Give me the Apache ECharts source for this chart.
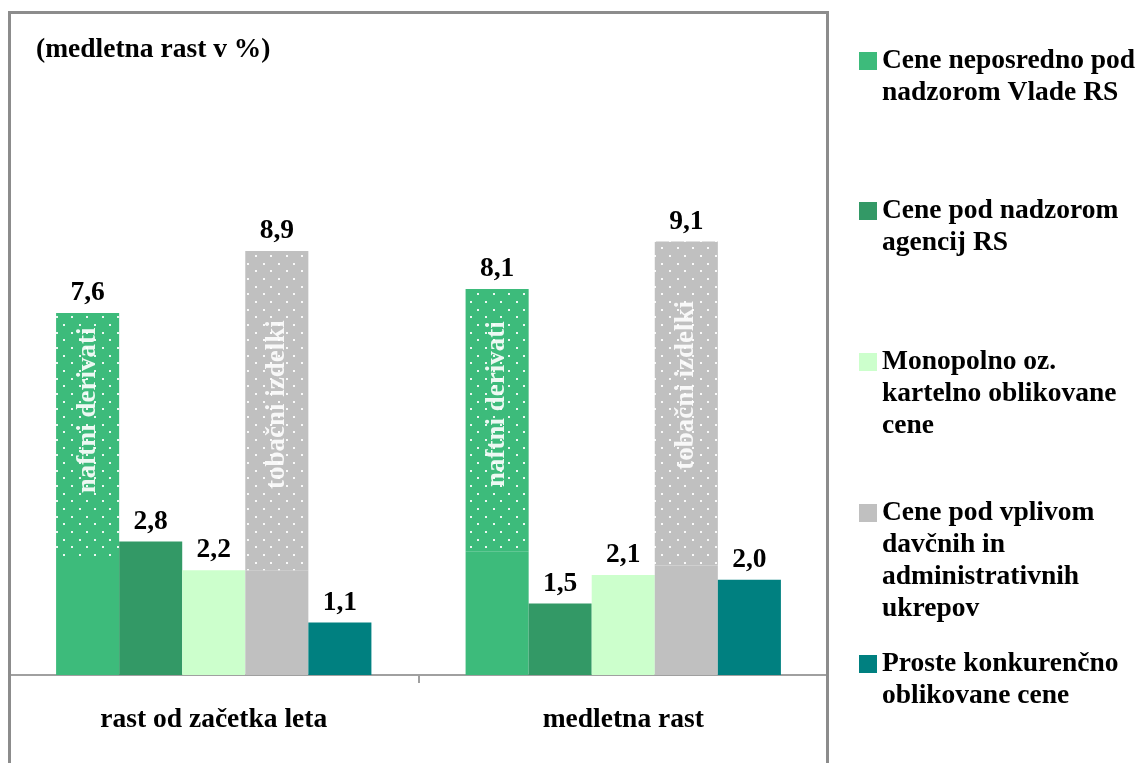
<!DOCTYPE html>
<html>
<head>
<meta charset="utf-8">
<script src="https://cdn.jsdelivr.net/npm/echarts@6/dist/echarts.min.js"></script>
<style>
  html, body { margin: 0; padding: 0; background: #ffffff; }
  #chart { width: 1142px; height: 763px; }
</style>
</head>
<body>
<div id="chart"></div>
<script>
// Categories on the x axis
const categories = ['rast od začetka leta', 'medletna rast'];

// Series names (legend text)
const seriesNames = [
  'Cene neposredno pod\nnadzorom Vlade RS',
  'Cene pod nadzorom\nagencij RS',
  'Monopolno oz.\nkartelno oblikovane\ncene',
  'Cene pod vplivom\ndavčnih in\nadministrativnih\nukrepov',
  'Proste konkurenčno\noblikovane cene'
];

// Values (%)
const vladaTotal   = [7.6, 8.1];   // Cene neposredno pod nadzorom Vlade RS
const vladaBase    = [2.5, 2.6];   // solid part below the "naftni derivati" part
const agencije     = [2.8, 1.5];
const monopolno    = [2.2, 2.1];
const davcniTotal  = [8.9, 9.1];   // Cene pod vplivom davčnih in administrativnih ukrepov
const davcniBase   = [2.2, 2.3];   // solid part below the "tobačni izdelki" part
const konkurencne  = [1.1, 2.0];

// Texts written inside the dotted parts
const vladaInner  = 'naftni derivati';
const davcniInner = 'tobačni izdelki';

const FONT = '"Liberation Serif", "Times New Roman", serif';
const FS = 27.5;
const colors = {
  vlada: '#3DBB7B',
  agencije: '#339966',
  monopolno: '#CCFFCC',
  davcni: '#C0C0C0',
  konkurencne: '#008080'
};

// Dotted fill: base colour with a staggered grid of small white dots
function dotPattern(base) {
  const size = 46;
  const c = document.createElement('canvas');
  c.width = size; c.height = size;
  const ctx = c.getContext('2d');
  ctx.fillStyle = base;
  ctx.fillRect(0, 0, size, size);
  ctx.fillStyle = 'rgba(255,255,255,0.9)';
  const step = size / 3;
  for (let r = 0; r < 6; r++) {
    const y = 2 + r * step / 2;
    const shift = (r % 2) ? step / 2 : 0;
    for (let k = 0; k < 3; k++) {
      const x = (2 + shift + k * step) % size;
      ctx.fillRect(Math.round(x), Math.round(y), 2, 2);
    }
  }
  return { image: c, repeat: 'repeat' };
}

const diff = (tot, base) => tot.map((v, i) => +(v - base[i]).toFixed(2));

// upward shift of the rotated inner texts (per category)
const vladaInnerShift = [24, 16];
const davcniInnerShift = [6, 18];

const valueLabel = {
  show: true,
  position: 'top',
  distance: 6,
  color: '#000',
  fontFamily: FONT,
  fontWeight: 'bold',
  fontSize: FS
};

function innerLabel(text, color, shift) {
  return {
    show: true,
    position: 'inside',
    rotate: 90,
    offset: [shift, 0],
    formatter: text,
    color: color,
    fontFamily: FONT,
    fontWeight: 'bold',
    fontSize: 27
  };
}

function fmt(arr) {
  return (p) => arr[p.dataIndex].toFixed(1).replace('.', ',');
}

const series = [
  {
    name: seriesNames[0], type: 'bar', stack: 'vlada',
    itemStyle: { color: colors.vlada },
    data: vladaBase
  },
  {
    name: 'vlada-top', type: 'bar', stack: 'vlada',
    itemStyle: { color: dotPattern(colors.vlada) },
    data: diff(vladaTotal, vladaBase).map((v, i) => ({
      value: v,
      label: innerLabel(vladaInner, 'rgba(255,255,255,0.9)', vladaInnerShift[i])
    }))
  },
  {
    name: 'vlada-cap', type: 'bar', stack: 'vlada',
    itemStyle: { color: colors.vlada },
    label: Object.assign({}, valueLabel, { formatter: fmt(vladaTotal) }),
    data: vladaTotal.map(() => 0)
  },
  {
    name: seriesNames[1], type: 'bar',
    itemStyle: { color: colors.agencije },
    label: Object.assign({}, valueLabel, { formatter: fmt(agencije) }),
    data: agencije
  },
  {
    name: seriesNames[2], type: 'bar',
    itemStyle: { color: colors.monopolno },
    label: Object.assign({}, valueLabel, { formatter: fmt(monopolno) }),
    data: monopolno
  },
  {
    name: seriesNames[3], type: 'bar', stack: 'davcni',
    itemStyle: { color: colors.davcni },
    data: davcniBase
  },
  {
    name: 'davcni-top', type: 'bar', stack: 'davcni',
    itemStyle: { color: dotPattern(colors.davcni) },
    data: diff(davcniTotal, davcniBase).map((v, i) => ({
      value: v,
      label: innerLabel(davcniInner, 'rgba(255,255,255,0.88)', davcniInnerShift[i])
    }))
  },
  {
    name: 'davcni-cap', type: 'bar', stack: 'davcni',
    itemStyle: { color: colors.davcni },
    label: Object.assign({}, valueLabel, { formatter: fmt(davcniTotal) }),
    data: davcniTotal.map(() => 0)
  },
  {
    name: seriesNames[4], type: 'bar',
    itemStyle: { color: colors.konkurencne },
    label: Object.assign({}, valueLabel, { formatter: fmt(konkurencne) }),
    data: konkurencne
  }
];
series.forEach(s => { s.barGap = '0%'; s.barCategoryGap = '23%'; s.animation = false; });

// One legend block per series. The text block is centred on its square, so blank
// lines are put above the name to keep the first line level with the square.
const LINE_H = 32;
const legendIconTops = [52, 202, 353, 504, 655];
const legends = seriesNames.map((name, i) => {
  const n = name.split('\n').length;
  const blockH = LINE_H * (2 * n - 1);
  return {
    data: [name],
    left: 859,
    top: legendIconTops[i] + 9 - blockH / 2,
    padding: 0,
    itemWidth: 18,
    itemHeight: 18,
    itemGap: 0,
    icon: 'rect',
    selectedMode: false,
    formatter: (nm) => ' \n'.repeat(n - 1) + nm,
    textStyle: {
      color: '#000',
      fontFamily: FONT,
      fontWeight: 'bold',
      fontSize: FS,
      lineHeight: LINE_H
    }
  };
});

const chart = echarts.init(document.getElementById('chart'), null, { renderer: 'canvas' });
chart.setOption({
  backgroundColor: '#ffffff',
  animation: false,
  title: {
    text: '(medletna rast v %)',
    left: 36,
    top: 36,
    padding: 0,
    textStyle: { color: '#000', fontFamily: FONT, fontWeight: 'bold', fontSize: FS }
  },
  legend: legends,
  grid: { left: 9, right: 314, top: 8, bottom: 88 },
  xAxis: {
    type: 'category',
    data: categories,
    axisLine: { show: true, lineStyle: { color: '#A0A0A0', width: 2 } },
    axisTick: { show: true, length: 8, lineStyle: { color: '#A0A0A0', width: 2 } },
    axisLabel: { color: '#000', fontFamily: FONT, fontWeight: 'bold', fontSize: FS, margin: 31 }
  },
  yAxis: {
    type: 'value', min: 0, max: 14, show: false,
    splitLine: { show: false }
  },
  graphic: [{
    type: 'rect',
    shape: { x: 9.5, y: 12.5, width: 818, height: 800 },
    style: { fill: 'none', stroke: '#8C8C8C', lineWidth: 3 },
    silent: true,
    z: 100
  }],
  series: series
});
</script>
</body>
</html>
